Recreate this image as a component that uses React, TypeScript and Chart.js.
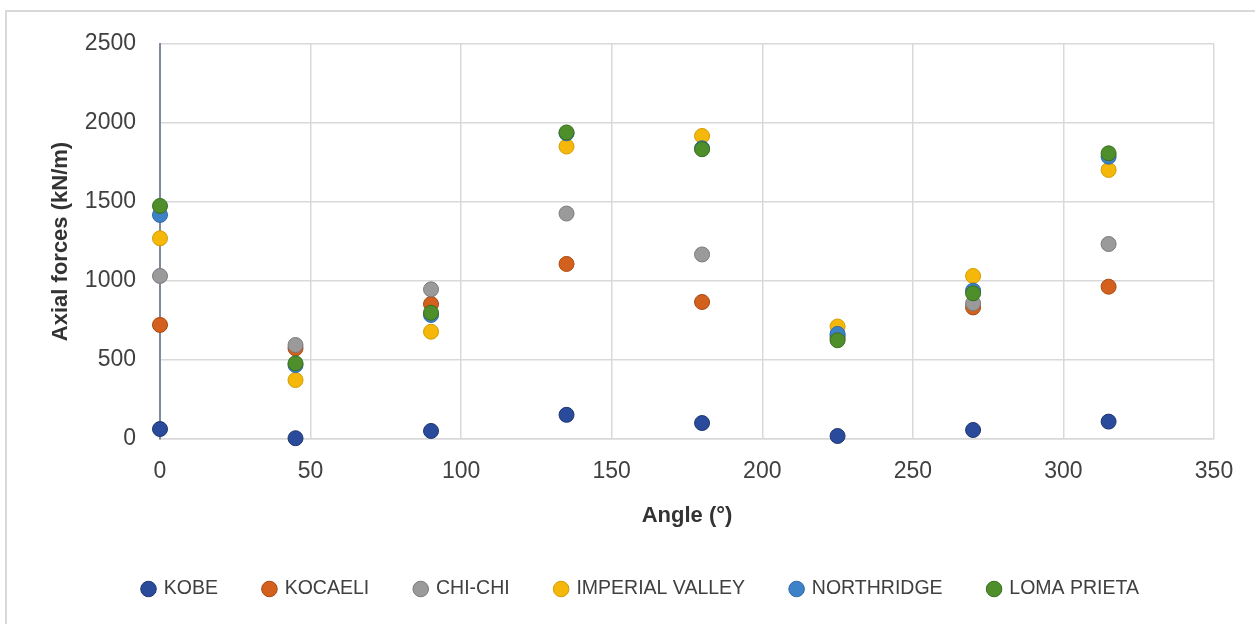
import React, { useEffect, useRef } from "react";
import { Chart, registerables } from "chart.js";

Chart.register(...registerables);

const angles = [0, 45, 90, 135, 180, 225, 270, 315];
const kobe = [63, 5, 51, 153, 101, 19, 57, 110];
const kocaeli = [722, 574, 854, 1108, 867, 640, 833, 964];
const chiChi = [1032, 595, 947, 1427, 1168, 655, 859, 1234];
const imperialValley = [1270, 373, 679, 1851, 1918, 712, 1032, 1703];
const northridge = [1418, 468, 785, 1935, 1840, 665, 939, 1787];
const lomaPrieta = [1475, 479, 799, 1940, 1834, 625, 922, 1808];

const seriesNames = ["KOBE", "KOCAELI", "CHI-CHI", "IMPERIAL VALLEY", "NORTHRIDGE", "LOMA PRIETA"];
const seriesValues = [kobe, kocaeli, chiChi, imperialValley, northridge, lomaPrieta];
const fillColors = ["#2a4b9b", "#d3601c", "#9a9a9a", "#f5b80a", "#3d82c8", "#4e8f2c"];
const edgeColors = ["#1d3670", "#a84812", "#7a7a7a", "#d29c00", "#2d6aa8", "#3a6e1f"];

const xTicks = [0, 350, 50];
const yTicks = [0, 2500, 500];

const FONT = "'Liberation Sans', Arial, sans-serif";

export default function App() {
  const ref = useRef<HTMLCanvasElement | null>(null);

  useEffect(() => {
    if (!ref.current) return;
    const n = seriesNames.length;
    const datasets = seriesNames.map((name, i) => ({
      label: name,
      data: angles.map((a, j) => ({ x: a, y: seriesValues[i][j] })),
      backgroundColor: fillColors[i],
      borderColor: edgeColors[i],
      borderWidth: 1,
      pointRadius: 7.5,
      pointHoverRadius: 7.5,
      order: n - 1 - i,
      clip: false as any,
    }));
    const chart = new Chart(ref.current, {
      type: "scatter",
      data: { datasets },
      options: {
        animation: false,
        responsive: false,
        events: [],
        layout: { padding: { left: 68, right: 41, top: 44, bottom: 15.25 } },
        plugins: {
          tooltip: { enabled: false },
          legend: {
            position: "bottom",
            labels: {
              usePointStyle: true,
              pointStyle: "circle",
              boxWidth: 11,
              boxHeight: 11,
              padding: 46,
              color: "#404040",
              font: { family: FONT, size: 19.5 },
              sort: (a: any, b: any) => a.datasetIndex - b.datasetIndex,
            },
          },
        },
        scales: {
          x: {
            type: "linear",
            min: xTicks[0],
            max: xTicks[1],
            afterFit: (s: any) => {
              s.height = 94.25;
            },
            ticks: {
              stepSize: xTicks[2],
              padding: 19,
              color: "#404040",
              font: { family: FONT, size: 23 },
              callback: (v: any) => String(v),
            },
            grid: { color: "#d9d9d9", lineWidth: 1.5, drawTicks: false },
            border: { color: "#d9d9d9", width: 1.5 },
            title: {
              display: true,
              text: "Angle (°)",
              color: "#333333",
              font: { family: FONT, size: 22, weight: "bold" },
              padding: { top: 0, bottom: 4 },
            },
          },
          y: {
            type: "linear",
            min: yTicks[0],
            max: yTicks[1],
            afterFit: (s: any) => {
              s.width = 92;
            },
            ticks: {
              stepSize: yTicks[2],
              padding: 24,
              color: "#404040",
              font: { family: FONT, size: 23 },
              callback: (v: any) => String(v),
            },
            grid: { color: "#d9d9d9", lineWidth: 1.5, drawTicks: false },
            border: { color: "#7f8aa0", width: 2 },
            title: {
              display: true,
              text: "Axial forces (kN/m)",
              color: "#333333",
              font: { family: FONT, size: 22, weight: "bold" },
              padding: { top: -20.2, bottom: 0 },
            },
          },
        },
      },
    });
    return () => chart.destroy();
  }, []);

  return (
    <div
      style={{
        position: "absolute",
        left: 0,
        top: 0,
        width: 1255,
        height: 624,
        background: "#ffffff",
        overflow: "hidden",
      }}
    >
      <div
        style={{
          position: "absolute",
          left: 5,
          top: 10,
          width: 1300,
          height: 700,
          borderLeft: "2px solid #d9d9d9",
          borderTop: "2px solid #d9d9d9",
        }}
      />
      <canvas
        ref={ref}
        width={1255}
        height={624}
        style={{ position: "absolute", left: 0, top: 0, width: 1255, height: 624 }}
      />
    </div>
  );
}
